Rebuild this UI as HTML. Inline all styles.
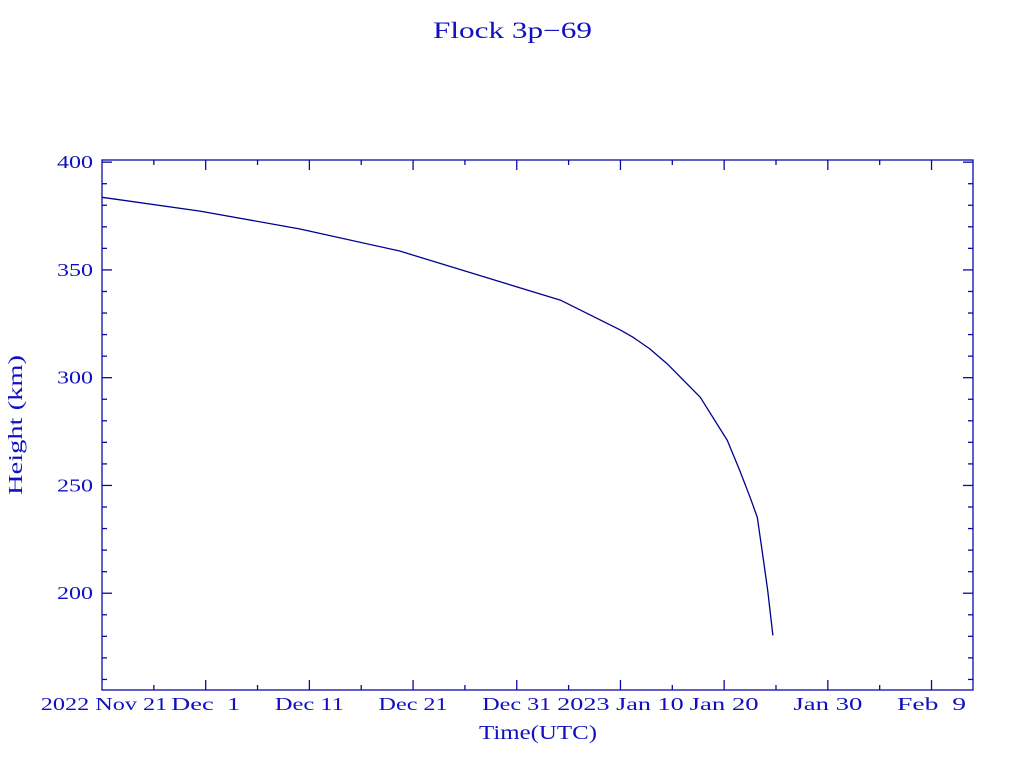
<!DOCTYPE html>
<html><head><meta charset="utf-8"><style>
html,body{margin:0;padding:0;background:#fff;width:1024px;height:768px;overflow:hidden}
text{font-family:"Liberation Serif",serif;fill:#1010c0}
</style></head><body>
<svg id="chart" width="1024" height="768" xmlns="http://www.w3.org/2000/svg">
<text x="433" y="38" font-size="23" textLength="159" lengthAdjust="spacingAndGlyphs">Flock 3p−69</text>
<text transform="translate(22,495) rotate(-90)" font-size="20" textLength="140" lengthAdjust="spacingAndGlyphs">Height (km)</text>
<text x="479" y="739" font-size="20" textLength="118" lengthAdjust="spacingAndGlyphs">Time(UTC)</text>
<g id="axes"></g>
<g id="series"></g>
</svg>
<script>
// data: days since 2022 Nov 21 00:00 UTC, height km
const days = [0, 9.45, 19.1, 28.7, 38.4, 44.2, 50, 51.2, 52.8, 54.5, 57.7, 60.3, 61.5, 62.5, 63.2, 63.7, 64.2, 64.7];
const heights = [383.7, 377.3, 369.0, 358.8, 344.5, 336.0, 322.1, 318.8, 313.5, 306.5, 290.9, 270.9, 257, 244.5, 235.2, 218.5, 201.3, 180.4];
const xTickDays = [0, 10, 20, 30, 40, 50, 60, 70, 80];
const xTickLabels = ["2022 Nov 21", "Dec  1", "Dec 11", "Dec 21", "Dec 31", "2023 Jan 10", "Jan 20", "Jan 30", "Feb  9"];
const yTicks = [200, 250, 300, 350, 400];

const L=102,R=973,T=160,B=690;
const xMin=0,xMax=84,yMin=155.1,yMax=401;
const sx=d=>L+(d-xMin)/(xMax-xMin)*(R-L);
const sy=v=>B-(v-yMin)/(yMax-yMin)*(B-T);
const NS="http://www.w3.org/2000/svg";
const axes=document.getElementById('axes');
const C="#0a0aa8";
function line(x1,y1,x2,y2,name){
  const l=document.createElementNS(NS,'line');
  l.setAttribute('x1',x1);l.setAttribute('y1',y1);l.setAttribute('x2',x2);l.setAttribute('y2',y2);
  l.setAttribute('stroke',C);l.setAttribute('stroke-width','1.3');
  
  
  axes.appendChild(l);
}
const frame=document.createElementNS(NS,'rect');
frame.setAttribute('x',L);frame.setAttribute('y',T);frame.setAttribute('width',R-L);frame.setAttribute('height',B-T);
frame.setAttribute('fill','none');frame.setAttribute('stroke',C);frame.setAttribute('stroke-width','1.3');


axes.appendChild(frame);
for(let d=5;d<xMax;d+=5){
  const major=d%10===0, len=major?10:5, x=sx(d);
  line(x,B,x,B-len,'x-tick');
  line(x,T,x,T+len,'x-tick-top');
}
for(let v=160;v<=400;v+=10){
  const major=v%50===0, len=major?10:5, y=sy(v);
  line(L,y,L+len,y,'y-tick');
  line(R,y,R-len,y,'y-tick-right');
}
xTickDays.forEach((d,i)=>{
  const t=document.createElementNS(NS,'text');
  const s=xTickLabels[i];
  const w=s.length*11.5;
  t.setAttribute('x',sx(d)-w/2+(i===0?2:0));t.setAttribute('y',710);
  t.setAttribute('font-size','18');
  t.setAttribute('textLength',w);t.setAttribute('lengthAdjust','spacingAndGlyphs');
  t.setAttribute('xml:space','preserve');t.style.whiteSpace='pre';
  t.textContent=s;
  
  
  axes.appendChild(t);
});
yTicks.forEach(v=>{
  const t=document.createElementNS(NS,'text');
  t.setAttribute('x',57);t.setAttribute('y',sy(v)+6);
  t.setAttribute('font-size','18');
  t.setAttribute('textLength',36);t.setAttribute('lengthAdjust','spacingAndGlyphs');
  t.textContent=v;
  
  
  axes.appendChild(t);
});
const p=document.createElementNS(NS,'path');
p.setAttribute('d',days.map((d,i)=>(i?'L':'M')+sx(d).toFixed(1)+','+sy(heights[i]).toFixed(1)).join(''));
p.setAttribute('fill','none');p.setAttribute('stroke','#000090');p.setAttribute('stroke-width','1.3');
p.setAttribute('stroke-linejoin','round');


document.getElementById('series').appendChild(p);
</script>
</body></html>
